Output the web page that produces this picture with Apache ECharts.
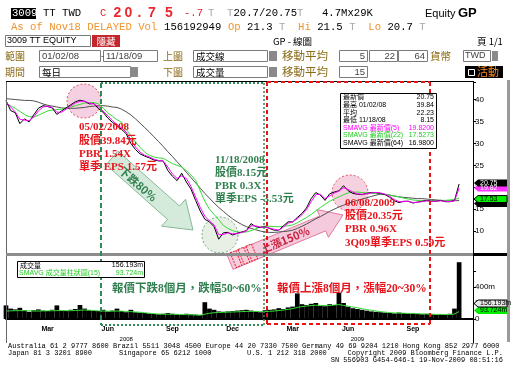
<!DOCTYPE html>
<html><head><meta charset="utf-8">
<script src="https://cdn.jsdelivr.net/npm/echarts@6/dist/echarts.min.js"></script>
<style>html,body{margin:0;padding:0;background:#fff}#c{width:520px;height:372px}</style>
</head><body><div id="c"></div>
<script>
// ---------- DATA (weekly readings, 04-Jan-2008 .. 18-Nov-2009) ----------
const weekDates = [];
for (let i = 0; i < 102; i++) { const d = new Date(Date.UTC(2008, 0, 4 + 7 * i)); weekDates.push(d.toISOString().slice(0, 10)); }
weekDates[98] = '2009-11-18';

const price = [39.8,37.5,37.0,34.5,35.6,34.9,36.5,38.0,38.6,38.4,38.1,36.6,37.4,38.1,38.8,39.5,39.84,39.6,39.0,39.1,
  37.9,37.1,35.8,34.8,34.0,33.2,32.2,30.0,28.6,27.6,27.1,26.7,26.2,26.0,26.0,23.8,22.5,21.5,23.2,21.2,
  19.6,17.0,14.6,12.7,12.1,11.0,8.15,9.6,9.7,9.1,9.5,9.8,10.1,11.7,11.0,10.8,11.0,10.6,10.2,10.2,
  11.2,12.1,12.1,13.1,14.0,15.3,17.4,18.8,18.2,17.0,18.5,18.9,19.2,20.35,19.2,18.6,18.4,18.3,18.6,18.8,
  18.8,18.6,18.3,17.7,16.9,16.5,16.8,16.8,16.4,16.6,16.8,17.0,16.8,16.8,17.0,16.7,16.7,17.0,20.75];
const ma5 = [39.5,38.3,37.2,35.5,35.3,35.2,36.0,37.4,38.3,38.5,38.2,37.1,37.1,37.8,38.5,39.2,39.6,39.6,39.2,39.0,
  38.3,37.4,36.3,35.2,34.3,33.5,32.6,30.8,29.2,28.0,27.3,26.9,26.4,26.1,26.0,24.6,23.0,22.0,22.6,22.0,
  20.2,17.8,15.4,13.4,12.3,11.4,9.2,9.2,9.6,9.4,9.4,9.7,10.0,11.2,11.2,10.9,10.9,10.7,10.4,10.2,
  10.9,11.8,12.1,12.8,13.7,14.9,16.7,18.3,18.4,17.4,18.0,18.7,19.1,19.9,19.5,18.9,18.5,18.4,18.5,18.7,
  18.8,18.7,18.4,17.9,17.2,16.7,16.7,16.8,16.5,16.6,16.7,16.9,16.8,16.8,16.9,16.8,16.7,16.9,19.82];
const ma22 = [39.0,38.6,38.0,37.3,36.6,36.1,36.0,36.4,36.9,37.4,37.6,37.7,37.8,38.1,38.3,38.6,38.9,39.2,39.3,39.3,
  39.0,38.1,37.0,36.2,35.4,34.8,33.2,31.8,30.3,29.1,28.0,27.3,26.9,26.7,26.6,26.0,25.4,25.0,24.6,23.8,
  22.8,21.6,19.2,16.8,15.0,13.8,12.6,11.3,10.6,10.1,9.8,9.7,9.8,10.1,10.5,11.0,11.1,11.1,11.0,11.0,
  11.1,11.2,11.4,11.9,12.5,13.1,13.8,14.6,15.4,16.1,16.8,17.3,17.8,18.3,18.7,18.9,18.9,18.8,18.7,18.6,
  18.6,18.5,18.4,18.2,18.0,17.8,17.5,17.3,17.1,17.0,16.9,16.9,16.9,17.0,17.0,17.0,17.1,17.2,17.53];
const ma64 = [40.2,40.1,40.0,39.9,39.8,39.8,39.7,39.4,39.0,38.7,38.5,38.3,38.1,38.0,38.0,38.0,38.1,38.2,38.4,38.5,
  38.6,38.6,38.5,38.3,38.2,37.8,37.2,36.5,35.6,34.6,33.6,32.6,31.5,30.4,29.3,28.1,27.0,25.8,24.7,23.4,
  22.2,21.0,19.8,18.6,17.5,16.4,15.4,14.5,13.6,12.8,12.1,11.5,11.0,10.6,10.3,10.0,9.8,9.7,9.7,9.8,
  9.9,10.0,10.2,10.6,11.1,11.6,12.2,12.8,13.3,13.9,14.5,15.0,15.5,15.9,16.3,16.7,17.0,17.3,17.6,17.9,
  18.2,18.4,18.3,18.2,18.0,17.8,17.7,17.6,17.5,17.4,17.4,17.3,17.2,17.1,17.0,16.9,16.9,16.9,16.98];
const volume = [170,130,120,140,110,90,110,120,105,100,115,170,105,100,115,125,175,130,110,100,
  100,115,95,105,130,100,85,115,85,80,75,70,65,60,65,75,65,60,55,65,
  60,55,50,210,130,115,95,90,95,100,105,110,115,105,95,85,110,115,120,135,
  125,145,155,320,185,175,190,200,165,160,185,175,330,200,155,135,125,115,105,95,
  90,85,80,75,70,80,75,70,75,65,60,65,60,55,60,55,65,130,710];
const volMa15 = [100,102,104,105,104,102,100,100,101,102,103,105,106,104,104,106,110,112,110,106,
  102,100,98,98,100,98,94,92,88,84,78,72,66,62,60,60,60,58,55,54,
  53,50,48,60,72,78,82,84,86,88,90,92,95,96,95,92,93,96,100,106,
  112,120,130,145,155,162,168,172,170,168,168,175,180,170,160,150,140,128,118,110,
  100,92,86,80,76,74,72,70,68,66,64,62,60,58,57,56,56,62,93.7];

const monthTickWeeks = [9, 22, 36, 49, 62, 74, 88];
const monthTickLabels = ['Mar', 'Jun', 'Sep', 'Dec', 'Mar', 'Jun', 'Sep'];
const yearTickWeeks = [26, 76];
const yearTickLabels = ['2008', '2009'];
const lastVals = { price: 20.75, ma5: 19.82, ma22: 17.53, ma64: 16.98, vol: 156.193, volMa: 93.724 };

// ---------- CHART ----------
const chart = echarts.init(document.getElementById('c'), null, { renderer: 'canvas' });
const lineS = (name, data, color, z) => ({ name, type: 'line', data, xAxisIndex: 0, yAxisIndex: 0, symbol: 'none',
  lineStyle: { color, width: 1 }, itemStyle: { color }, z, silent: true });
const option = {
  animation: false,
  backgroundColor: '#fff',
  grid: [{ left: 6, right: 47, top: 82, height: 171 }, { left: 6, right: 47, top: 255, height: 64 }],
  xAxis: [
    { type: 'category', gridIndex: 0, data: weekDates, boundaryGap: false, show: false },
    { type: 'category', gridIndex: 1, data: weekDates, boundaryGap: false, position: 'bottom', offset: 4,
      axisLine: { lineStyle: { color: '#000', width: 2 } }, axisTick: { show: false },
      axisLabel: { interval: (i) => monthTickWeeks.includes(i), formatter: (v, i) => monthTickLabels[monthTickWeeks.indexOf(i)] || '',
        fontSize: 7, fontWeight: 'bold', color: '#000', margin: 3, fontFamily: 'Liberation Sans' } },
    { type: 'category', gridIndex: 1, data: weekDates, boundaryGap: false, position: 'bottom', offset: 14,
      axisLine: { show: false }, axisTick: { show: false },
      axisLabel: { interval: (i) => yearTickWeeks.includes(i), formatter: (v, i) => yearTickLabels[yearTickWeeks.indexOf(i)] || '',
        fontSize: 6, color: '#000', margin: 3, fontFamily: 'Liberation Sans' } }
  ],
  yAxis: [
    { type: 'value', gridIndex: 0, position: 'right', min: 5, max: 44, interval: 5,
      axisLine: { show: true, lineStyle: { color: '#000' } }, axisTick: { show: true, length: 3, lineStyle: { color: '#000' } },
      splitLine: { show: false },
      axisLabel: { fontSize: 8, color: '#000', margin: 2, fontFamily: 'Liberation Sans', formatter: v => (v % 5 === 0 && v > 5) ? String(v) : '' } },
    { type: 'value', gridIndex: 1, position: 'right', min: 0, max: 800, interval: 200,
      axisLine: { show: true, lineStyle: { color: '#000' } }, axisTick: { show: true, length: 3, lineStyle: { color: '#000' } },
      splitLine: { show: false },
      axisLabel: { fontSize: 8, color: '#000', margin: 2, fontFamily: 'Liberation Sans', formatter: v => v === 0 ? '0' : (v <= 400 ? v + 'm' : '') } }
  ],
  series: [
    lineS('SMAVG(64)', ma64, '#505050', 2),
    lineS('SMAVG(22)', ma22, '#33dd33', 3),
    lineS('最新價', price, '#000000', 4),
    lineS('SMAVG(5)', ma5, '#ff00ff', 5),
    { name: '成交量', type: 'bar', data: volume, xAxisIndex: 1, yAxisIndex: 1, barWidth: 4.7, itemStyle: { color: '#000' }, silent: true, z: 2 },
    { name: 'SMAVG(15)', type: 'line', data: volMa15, xAxisIndex: 1, yAxisIndex: 1, symbol: 'none', lineStyle: { color: '#33dd33', width: 1 }, z: 3, silent: true }
  ]
};
chart.setOption(option);

// ---------- DECORATIONS ----------
const G = [];
const CJK = 'Noto Sans CJK TC';
function T(x, y, text, o = {}) {
  G.push({ type: 'text', x, y, z: o.z ?? 100, rotation: o.rot || 0, silent: true,
    style: { text, fill: o.c || '#000', fontSize: o.s || 10, fontFamily: o.f || 'Liberation Sans', fontWeight: o.w || 'normal',
      align: o.a || 'left', verticalAlign: 'middle' } });
}
function R(x, y, w, h, fill, stroke, o = {}) {
  G.push({ type: 'rect', z: o.z ?? 90, silent: true, shape: { x, y, width: w, height: h },
    style: { fill: fill || 'none', stroke: stroke || 'none', lineWidth: o.lw || 1, lineDash: o.dash || null } });
}
function L(x1, y1, x2, y2, stroke, lw, dash, z) {
  G.push({ type: 'line', z: z ?? 90, silent: true, shape: { x1, y1, x2, y2 }, style: { stroke, lineWidth: lw || 1, lineDash: dash || null } });
}
function C(cx, cy, r, fill, stroke) {
  G.push({ type: 'circle', z: 0, silent: true, shape: { cx, cy, r }, style: { fill, stroke, lineWidth: 1, lineDash: [2, 2] } });
}
function arrow(x1, y1, x2, y2, sw, hw, hl, fill, stroke) {
  const dx = x2 - x1, dy = y2 - y1, len = Math.hypot(dx, dy), ux = dx / len, uy = dy / len, nx = -uy, ny = ux;
  const bx = x2 - ux * hl, by = y2 - uy * hl;
  const pts = [[x1 + nx * sw, y1 + ny * sw], [bx + nx * sw, by + ny * sw], [bx + nx * hw, by + ny * hw], [x2, y2],
    [bx - nx * hw, by - ny * hw], [bx - nx * sw, by - ny * sw], [x1 - nx * sw, y1 - ny * sw]];
  G.push({ type: 'polygon', z: 1, silent: true, shape: { points: pts }, style: { fill, stroke, lineWidth: 1 } });
}
function box(x, y, w, h) { R(x + 0.5, y + 0.5, w, h, '#fff', '#7a7a7a'); }

// header row 1
const mono = 'Liberation Mono';
R(11, 8, 25, 11, '#000', null);
T(12, 13.5, '3009', { c: '#fff', s: 10.6, f: mono });
T(43, 13.5, 'TT TWD', { s: 10.6, f: mono });
T(100, 13.5, 'C', { s: 10.6, f: mono, c: '#e8282d' });
['2', '0', '.', '7', '5'].forEach((ch, i) => T([117.5, 128.5, 139.5, 152, 169][i], 13.5, ch, { s: 14, f: 'Liberation Sans', w: 'bold', c: '#e8282d', a: 'center' }));
T(184, 13.5, '-.7', { s: 10.6, f: mono, c: '#e8282d' });
T(208, 13.5, 'T', { s: 10.6, f: mono, c: '#a8a8a8' });
T(227, 13.5, 'T', { s: 10.6, f: mono, c: '#a8a8a8' });
T(233.5, 13.5, '20.7/20.75', { s: 10.6, f: mono });
T(297, 13.5, 'T', { s: 10.6, f: mono, c: '#a8a8a8' });
T(322, 13.5, '4.7Mx29K', { s: 10.6, f: mono });
T(425, 13.5, 'Equity', { s: 11 });
T(458, 13.5, 'GP', { s: 13, w: 'bold' });
// header row 2
const row2 = [['As of Nov18 DELAYED Vol ', '#f0932e'], ['156192949 ', '#000'], ['Op ', '#f0932e'], ['21.3 ', '#000'], ['T  ', '#a8a8a8'],
  ['Hi ', '#f0932e'], ['21.5 ', '#000'], ['T  ', '#a8a8a8'], ['Lo ', '#f0932e'], ['20.7 ', '#000'], ['T', '#a8a8a8']];
let ci = 0;
row2.forEach(([s, c]) => { T(11 + ci * 6.38, 27.5, s, { s: 10.6, f: mono, c }); ci += s.length; });
// header row 3
box(5, 35, 85, 11);
T(7, 41, '3009 TT EQUITY', { s: 9 });
R(92, 35, 28, 12, '#c4262e', null);
T(106, 41, '隱藏', { s: 9.5, f: CJK, c: '#fff', a: 'center' });
T(273, 41, 'GP - 線圖', { s: 9.5, f: CJK });
T(477, 41, '頁 1/1', { s: 9.5, f: CJK });
// rows 4-5
const brown = '#8b6a14';
T(5, 56, '範圍', { s: 10, f: CJK, c: brown });
box(39, 50, 61, 11); T(42, 56, '01/02/08', { s: 9.5, c: '#444' });
T(101, 56, '-', { s: 9.5, c: '#444' });
box(103, 50, 54, 11); T(106, 56, '11/18/09', { s: 9.5, c: '#444' });
T(163, 56, '上圖', { s: 10, f: CJK, c: brown });
box(193, 50, 74, 11); T(196, 56, '成交線', { s: 9.5, f: CJK });
R(269, 51, 8, 10, '#8a8a8a', null);
T(282, 56, '移動平均', { s: 11.5, f: CJK, c: brown });
box(339, 50, 28, 11); T(365, 56, '5', { s: 9.5, a: 'right', c: '#444' });
box(369, 50, 28, 11); T(395, 56, '22', { s: 9.5, a: 'right', c: '#444' });
box(398, 50, 29, 11); T(425, 56, '64', { s: 9.5, a: 'right', c: '#444' });
T(430, 56, '貨幣', { s: 10.5, f: CJK, c: brown });
box(463, 50, 27, 11); T(465, 56, 'TWD', { s: 9, c: '#444' });
R(492, 51, 6, 10, '#8a8a8a', null);
T(5, 72, '期間', { s: 10, f: CJK, c: brown });
box(39, 66, 91, 11); T(42, 72, '每日', { s: 9.5, f: CJK });
R(130, 67, 8, 10, '#8a8a8a', null);
T(163, 72, '下圖', { s: 10, f: CJK, c: brown });
box(193, 66, 74, 11); T(196, 72, '成交量', { s: 9.5, f: CJK });
R(269, 67, 8, 10, '#8a8a8a', null);
T(282, 72, '移動平均', { s: 11.5, f: CJK, c: brown });
box(339, 66, 28, 11); T(365, 72, '15', { s: 9.5, a: 'right', c: '#444' });
R(465, 66, 38, 12, '#000', null);
R(468.5, 69.5, 6, 6, 'none', '#fff');
T(477, 72, '活動', { s: 11, f: CJK, c: '#ff8c1a' });

// chart frame
L(6.5, 81, 6.5, 343, '#666', 1);
L(6, 81.5, 473, 81.5, '#000', 1);
L(473.5, 81, 473.5, 343, '#000', 1);
R(6, 253, 467, 3, '#8c8c8c', null);
R(473, 253, 35, 3, '#000', null);
R(507, 80, 3, 262, '#9a9a9a', null);

// annotation boxes
L(101, 83, 264, 83, '#2e8b57', 2, [2, 2], 95);
L(101, 83, 101, 325, '#2e8b57', 2, [5, 3], 95);
L(264, 83, 264, 325, '#2e8b57', 1.5, [2, 2], 95);
L(101, 325, 264, 325, '#2e8b57', 2, [2, 2], 95);
L(267, 82, 430, 82, '#ee1111', 2, [4, 3], 95);
L(267, 82, 267, 324, '#ee1111', 2, [4, 3], 95);
L(430, 82, 430, 324, '#ee1111', 2, [4, 3], 95);
L(267, 324, 430, 324, '#ee1111', 2, [4, 3], 95);

// circles & arrows
C(84, 101, 17, 'rgba(236,176,206,0.6)', '#e04a5a');
C(220, 235, 18, 'rgba(222,232,218,0.7)', '#6aaa80');
C(350, 193, 18, 'rgba(240,180,205,0.6)', '#e04a5a');
arrow(112, 158, 193, 230, 9, 18, 26, 'rgba(204,230,212,0.85)', '#88b898');
arrow(230, 262, 343, 215, 8, 15, 22, 'rgba(243,196,216,0.9)', '#e07aa0');
[0, 1, 2].forEach(k => {
  const ang = Math.atan2(215 - 262, 343 - 230);
  G.push({ type: 'rect', z: 2, silent: true, x: 236 + k * 8.5 * Math.cos(ang), y: 259 + k * 8.5 * Math.sin(ang), rotation: -ang,
    shape: { x: -3, y: -8, width: 6, height: 16 }, style: { fill: 'rgba(246,206,222,0.9)', stroke: '#ee2233', lineWidth: 1, lineDash: [2, 1] } });
});
T(138, 184, '下跌80%', { s: 11, f: CJK, w: 'bold', c: '#2f7f4f', a: 'center', rot: -0.72 });
T(285, 240, '上漲150%', { s: 11, f: CJK, w: 'bold', c: '#c81e3c', a: 'center', rot: 0.39 });

// text annotations
const serif = 'Liberation Serif, Noto Sans CJK TC';
const red = '#e8141c', grn = '#2f7f4f';
[['05/02/2008', 127], ['股價39.84元', 141.5], ['PBR 1.54X', 154.5], ['單季 EPS 1.57元', 167.5]].forEach(([s, y]) => T(79, y, s, { s: 11, f: serif, w: 'bold', c: red }));
[['11/18/2008', 160], ['股價8.15元', 173], ['PBR 0.3X', 186], ['單季EPS -3.53元', 199]].forEach(([s, y]) => T(215, y, s, { s: 11, f: serif, w: 'bold', c: grn }));
[['06/08/2009', 203], ['股價20.35元', 216], ['PBR 0.96X', 229.5], ['3Q09單季EPS 0.59元', 243]].forEach(([s, y]) => T(345, y, s, { s: 11, f: serif, w: 'bold', c: red }));
T(112, 289, '報價下跌8個月，跌幅50~60%', { s: 11.5, f: serif, w: 'bold', c: grn });
T(277, 289, '報價上漲8個月，漲幅20~30%', { s: 11.5, f: serif, w: 'bold', c: red });

// info box
R(340.5, 93.5, 96, 55, '#fff', '#000', { z: 96 });
const info = [['最新價', '20.75', '#000'], ['最高 01/02/08', '39.84', '#000'], ['平均', '22.23', '#000'], ['最低 11/18/08', '8.15', '#000'],
  ['SMAVG 最新價(5)', '19.8200', '#ff00ff'], ['SMAVG 最新價(22)', '17.5273', '#22cc22'], ['SMAVG 最新價(64)', '16.9800', '#000']];
info.forEach(([a, b, c], i) => { const y = 97.5 + i * 7.6; T(343, y, a, { s: 7, f: 'Liberation Sans, Noto Sans CJK TC', c, z: 97 }); T(434, y, b, { s: 7, c, a: 'right', z: 97 }); });
// volume legend box
R(17.5, 261.5, 127, 16, '#fff', '#000', { z: 96 });
T(20, 265.5, '成交量', { s: 7, f: CJK, z: 97 }); T(143, 265.5, '156.193m', { s: 7, a: 'right', z: 97 });
T(19, 273.5, 'SMAVG 成交量柱狀圖(15)', { s: 7, f: 'Liberation Sans, Noto Sans CJK TC', c: '#22cc22', z: 97 }); T(143, 273.5, '93.724m', { s: 7, a: 'right', c: '#22cc22', z: 97 });

// last-value tags from axis scales
function tag(y, fill, txt, tc, stroke) {
  G.push({ type: 'polygon', z: 98, silent: true, shape: { points: [[474, y], [478, y - 3.5], [507, y - 3.5], [507, y + 3.5], [478, y + 3.5]] },
    style: { fill, stroke: stroke || 'none', lineWidth: 1 } });
  if (txt) T(480, y, txt, { s: 7, c: tc, z: 99 });
}
const py = v => chart.convertToPixel({ yAxisIndex: 0 }, v);
const vy = v => chart.convertToPixel({ yAxisIndex: 1 }, v);
tag(py(lastVals.ma64) + 3, '#000', '', '#fff');
tag(py(lastVals.ma22) + 1, '#00ee00', lastVals.ma22.toFixed(2), '#000', '#000');
tag(py(lastVals.ma5), '#ff33ff', lastVals.ma5.toFixed(2), '#fff');
tag(py(lastVals.price) - 1, '#000', lastVals.price.toFixed(2), '#fff');
tag(vy(lastVals.volMa) - 1, '#00ee00', lastVals.volMa.toFixed(3) + 'm', '#000');
tag(vy(lastVals.vol) - 3, '#e8e8e8', lastVals.vol.toFixed(3) + 'm', '#000', '#000');

// footer
const fm = { s: 7, f: 'Liberation Mono' };
T(8, 346.5, 'Australia 61 2 9777 8600 Brazil 5511 3048 4500 Europe 44 20 7330 7500 Germany 49 69 9204 1210 Hong Kong 852 2977 6000', fm);
T(8, 353.5, 'Japan 81 3 3201 8900', fm);
T(119, 353.5, 'Singapore 65 6212 1000', fm);
T(247, 353.5, 'U.S. 1 212 318 2000', fm);
T(503, 353.5, 'Copyright 2009 Bloomberg Finance L.P.', Object.assign({ a: 'right' }, fm));
T(503, 360.5, 'SN 556903 G454-646-1 19-Nov-2009 08:51:16', Object.assign({ a: 'right' }, fm));

chart.setOption({ graphic: G });
</script></body></html>
